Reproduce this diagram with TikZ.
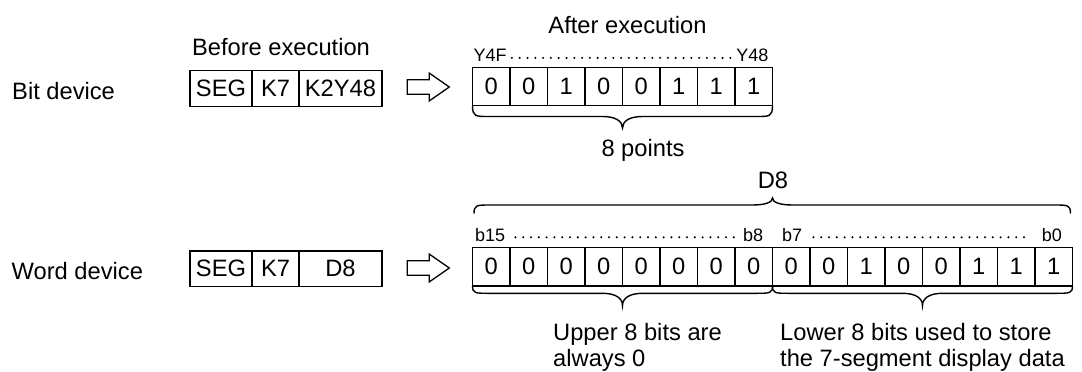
\documentclass[tikz,border=0pt]{standalone}
\usepackage{fontspec}
\setmainfont{Liberation Sans}
\newcommand\hbrace[6]{% #1 xL, #2 xR, #3 y at ends, #4 y of line, #5 y of tip, #6 x of tip
  \draw[brc] (#1,#3) .. controls (#1,#4) and (#1+3,#4) .. (#1+16,#4)
    -- (#6-20,#4) .. controls (#6-7,#4) and (#6,0.6*#4+0.4*#5) .. (#6,#5)
    .. controls (#6,0.6*#4+0.4*#5) and (#6+7,#4) .. (#6+20,#4)
    -- (#2-16,#4) .. controls (#2-3,#4) and (#2,#4) .. (#2,#3);}
\newcommand\hollowarrow[2]{% #1 left x, #2 centre y
  \draw[line width=1.3pt, fill=white, line join=miter]
    (#1,#2-7.3) -- (#1+22,#2-7.3) -- (#1+22,#2-13.9) -- (#1+42,#2)
    -- (#1+22,#2+13.9) -- (#1+22,#2+7.3) -- (#1,#2+7.3) -- cycle;}
\begin{document}
\begin{tikzpicture}[x=1pt,y=-1pt,
  big/.style={font=\fontsize{23.7}{28}\selectfont},
  small/.style={font=\fontsize{18}{21}\selectfont},
  lbl/.style={inner sep=0pt, big},
  slbl/.style={inner sep=0pt, small},
  cell/.style={draw, line width=1.3pt, inner sep=0pt, minimum width=37.5pt, minimum height=38.4pt, big},
  icell/.style={draw, line width=1.3pt, inner sep=0pt, minimum height=35.5pt, big},
  brc/.style={line width=1.4pt},
  dotl/.style={line width=2.3pt, line cap=round, dash pattern=on 0pt off 7.8pt}]
\useasboundingbox (0,0) rectangle (1082,372);

% ---------- Bit device row ----------
\node[lbl, anchor=base west] (bitdev) at (12,99.5) {Bit device};
\node[lbl, anchor=base] (before) at (281,55) {Before execution};
\node[icell, minimum width=62pt] (seg1) at (221,88.5) {SEG};
\node[icell, minimum width=47pt] (k71) at (275.5,88.5) {K7};
\node[icell, minimum width=83pt] (op1) at (340.5,88.5) {K2Y48};

\hollowarrow{407.3}{87}

\node[lbl, anchor=base] (after) at (627.5,33.3) {After execution};
\foreach \v [count=\i from 0] in {0,0,1,0,0,1,1,1}
  \node[cell] (t\i) at (491.25+37.5*\i,86.5) {\v};
\node[slbl, anchor=base west] (y4f) at (473.5,61.7) {Y4F};
\node[slbl, anchor=base east] (y48) at (768.5,61.7) {Y48};
\draw[dotl] ([xshift=5pt,yshift=3.8pt]y4f.base east) -- ([xshift=-3pt,yshift=3.8pt]y48.base west);

\hbrace{472.5}{772.5}{105.7}{116.5}{128}{622.5}
\node[lbl, anchor=base] (pts) at (643,156) {8 points};

% ---------- Word device row ----------
\node[lbl, anchor=base west] (worddev) at (11.5,279) {Word device};
\node[icell, minimum width=62pt] (seg2) at (221,268.8) {SEG};
\node[icell, minimum width=47pt] (k72) at (275.5,268.8) {K7};
\node[icell, minimum width=83pt] (op2) at (340.5,268.8) {D8};

\hollowarrow{407.3}{268}

\node[lbl, anchor=base] (d8) at (773,188.3) {D8};
\hbrace{474}{1070.5}{213.5}{205}{198}{772.5}

\foreach \v [count=\i from 0] in {0,0,0,0,0,0,0,0,0,0,1,0,0,1,1,1}
  \node[cell, minimum height=38.6pt] (w\i) at (491.25+37.5*\i,266.8) {\v};
\node[slbl, anchor=base west] (b15) at (475,241.7) {b15};
\node[slbl, anchor=base west] (b8) at (743,241.7) {b8};
\node[slbl, anchor=base west] (b7) at (782,241.7) {b7};
\node[slbl, anchor=base east] (b0) at (1062,241.7) {b0};
\draw[dotl] ([xshift=10pt,yshift=4.4pt]b15.base east) -- ([xshift=-9pt,yshift=4.4pt]b8.base west);
\draw[dotl] ([xshift=11pt,yshift=4.4pt]b7.base east) -- ([xshift=-12pt,yshift=4.4pt]b0.base west);

\hbrace{472.5}{772.5}{286}{293.3}{305.5}{622.5}
\hbrace{772.5}{1072.5}{286}{293.3}{305.5}{922.5}

\node[lbl, anchor=base west] (up1) at (553,340.5) {Upper 8 bits are};
\node[lbl, anchor=base west] (up2) at (553,366.8) {always 0};
\node[lbl, anchor=base west] (lo1) at (780,340.5) {Lower 8 bits used to store};
\node[lbl, anchor=base west] (lo2) at (780,366.8) {the 7-segment display data};
\end{tikzpicture}
\end{document}
